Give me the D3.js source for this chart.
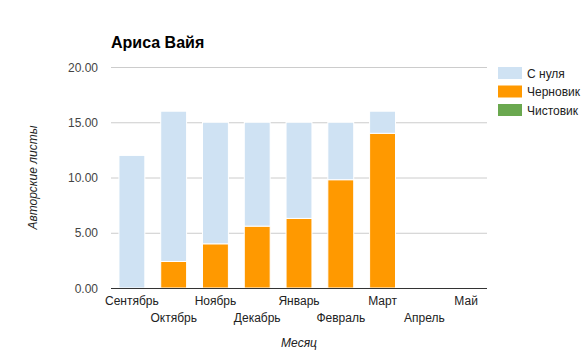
<!DOCTYPE html>
<html><head><meta charset="utf-8">
<script src="https://cdn.jsdelivr.net/npm/d3@7/dist/d3.min.js"></script>
<style>body{margin:0;background:#fff}svg{display:block;font-family:"Liberation Sans",Arial,sans-serif}</style>
</head><body><svg id="c" width="587" height="357"></svg>
<script>
const months = ["Сентябрь","Октябрь","Ноябрь","Декабрь","Январь","Февраль","Март","Апрель","Май"];
const seriesNames = ["С нуля","Черновик","Чистовик"];
const seriesColors = ["#cfe2f3","#ff9900","#6aa84f"];
const snulya    = [12, 13.6, 11, 9.4, 8.7, 5.2, 2, 0, 0];
const chernovik = [0, 2.4, 4, 5.6, 6.3, 9.8, 14, 0, 0];
const chistovik = [0, 0, 0, 0, 0, 0, 0, 0, 0];
const yTicks = [0, 5, 10, 15, 20];

const svg = d3.select("#c");
const m = {l:111, r:487, t:67, b:288};
const x = d3.scaleBand().domain(months).range([m.l, m.r]).paddingInner(0.38).paddingOuter(0.19);
const y = d3.scaleLinear().domain([0,20]).range([m.b, m.t]);

// gridlines
svg.append("g").selectAll("line").data(yTicks).join("line")
  .attr("x1", m.l).attr("x2", m.r)
  .attr("y1", d=>y(d)+0.5).attr("y2", d=>y(d)+0.5)
  .attr("stroke", "#cccccc");

const rows = months.map((mo,i)=>({month:mo, "Чистовик":chistovik[i], "Черновик":chernovik[i], "С нуля":snulya[i]}));
const stack = d3.stack().keys(["Чистовик","Черновик","С нуля"]);
const layers = stack(rows);
const color = d3.scaleOrdinal().domain(seriesNames).range(seriesColors);

svg.append("g").selectAll("g").data(layers).join("g")
  .attr("fill", d=>color(d.key))
  .selectAll("rect").data(d=>d.filter(p=>p[1]-p[0]>0)).join("rect")
  .attr("x", d=>x(d.data.month))
  .attr("width", x.bandwidth())
  .attr("y", d=>y(d[1]))
  .attr("height", d=>y(d[0])-y(d[1]))
  .attr("stroke", "#fff").attr("stroke-width", 1);

// baseline
svg.append("line").attr("x1", m.l).attr("x2", m.r)
  .attr("y1", y(0)+0.5).attr("y2", y(0)+0.5).attr("stroke", "#333");

// y axis labels
const yAxis = d3.axisLeft(y).tickValues(yTicks).tickFormat(d3.format(".2f")).tickSize(0).tickPadding(13);
const ya = svg.append("g").attr("transform", `translate(${m.l},0)`).call(yAxis);
ya.select(".domain").remove();
ya.selectAll("text").attr("font-size", 12).attr("fill", "#444").attr("dy", "0.35em")
  .attr("font-family", '"Liberation Sans",Arial,sans-serif');

// x axis labels (staggered)
const xAxis = d3.axisBottom(x).tickSize(0);
const xa = svg.append("g").attr("transform", `translate(0,${m.b})`).call(xAxis);
xa.select(".domain").remove();
xa.selectAll("text").attr("font-size", 12).attr("fill", "#222")
  .attr("font-family", '"Liberation Sans",Arial,sans-serif')
  .attr("dy", null)
  .attr("y", (d,i)=> i%2===0 ? 17 : 34);

// title
svg.append("text").attr("x", m.l).attr("y", 48).attr("font-size", 16).attr("font-weight", "bold")
  .attr("fill", "#000").text("Ариса Вайя");

// axis titles
svg.append("text").attr("x", (m.l+m.r)/2).attr("y", 347).attr("text-anchor", "middle")
  .attr("font-size", 12).attr("font-style", "italic").attr("fill", "#222").text("Месяц");
svg.append("text").attr("transform", `translate(37,${(m.t+m.b)/2}) rotate(-90)`).attr("text-anchor", "middle")
  .attr("font-size", 12).attr("font-style", "italic").attr("fill", "#222").text("Авторские листы");

// legend
const lg = svg.append("g").selectAll("g").data(seriesNames).join("g")
  .attr("transform", (d,i)=>`translate(498,${67+i*18.5})`);
lg.append("rect").attr("width", 24).attr("height", 12).attr("fill", d=>color(d));
lg.append("text").attr("x", 29).attr("y", 10.5).attr("font-size", 12).attr("fill", "#222").text(d=>d);
</script></body></html>
